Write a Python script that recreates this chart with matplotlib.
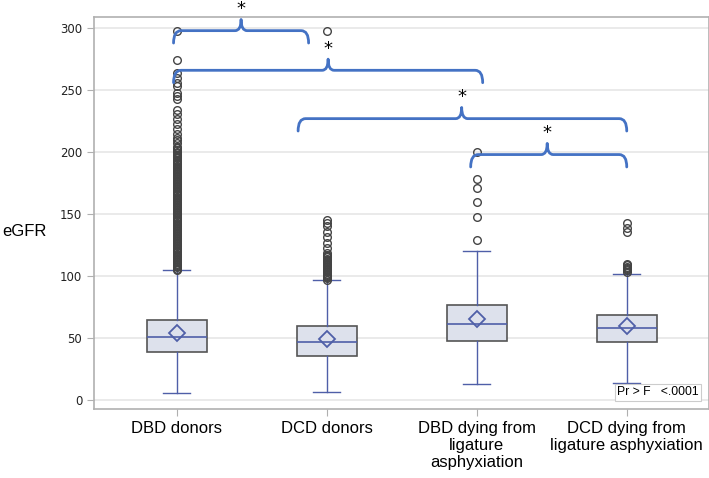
import matplotlib
matplotlib.use("Agg")
import matplotlib.pyplot as plt
from matplotlib.path import Path
from matplotlib.patches import PathPatch

# groups and box statistics
groups = ["DBD donors", "DCD donors",
          "DBD dying from\nligature\nasphyxiation",
          "DCD dying from\nligature asphyxiation"]
q1 = [38.7, 35.3, 47.6, 46.8]
med = [51.0, 46.8, 61.2, 58.3]
q3 = [64.4, 59.6, 76.7, 68.7]
whislo = [5.4, 6.7, 12.6, 13.6]
whishi = [104.5, 96.5, 120.5, 102.0]
means = [54.0, 49.0, 65.0, 59.9]

fliers_dbd = [105, 106, 107, 108, 109, 110, 111, 112, 113, 114, 115, 116, 117, 118,
              119, 120, 121, 122, 123, 124, 125, 126, 127, 128, 129, 130, 131, 132,
              133, 134, 135, 136, 137, 138, 139, 140, 141, 142, 143, 144, 145, 146,
              147, 148, 149, 150, 151, 152, 153, 154, 155, 156, 157, 158, 159, 160,
              161, 162, 163, 164, 165, 166, 167, 168, 169, 170, 171, 172, 173, 174,
              175, 176, 177, 178, 179, 180, 181, 182, 183, 184, 185, 186, 187, 188,
              189, 190, 191, 192, 193, 194, 195, 196, 197, 198, 199, 200,
              201.6, 203, 204, 207, 209.7, 211, 215, 219, 223, 227, 231, 233.8,
              243, 245, 247.6, 253, 255.6, 259.6, 263.6, 274.4, 298]
fliers_dcd = [97, 98, 99, 100, 101, 102, 103, 104, 105, 106, 107, 108, 109, 110,
              111, 112, 113, 114, 115, 116, 117, 118.5, 122.5, 126.5, 131.7, 135.7,
              140, 143, 145, 298]
fliers_dbd_lig = [129, 148, 160, 171, 178, 200]
fliers_dcd_lig = [103.5, 104.5, 105.5, 106.5, 107.5, 108.5, 110, 135.3, 139, 142.5]
fliers = [fliers_dbd, fliers_dcd, fliers_dbd_lig, fliers_dcd_lig]

# significance braces: (left end, right end, tip position, height)
braces = [(-0.02, 0.88, 0.43, 298),
          (-0.02, 2.04, 1.01, 266),
          (0.81, 3.0, 1.90, 227),
          (1.96, 3.0, 2.47, 198)]

stats = []
for i in range(len(groups)):
    stats.append(dict(q1=q1[i], med=med[i], q3=q3[i], whislo=whislo[i],
                      whishi=whishi[i], mean=means[i], fliers=fliers[i]))

fig = plt.figure(figsize=(7.09, 4.78), dpi=100)
ax = fig.add_axes([0.1326, 0.1444, 0.8678, 0.82])

blue = "#4f5fa8"
ax.bxp(stats, positions=range(len(groups)), widths=0.40, capwidths=0.18,
       patch_artist=True, showmeans=True,
       boxprops=dict(facecolor="#dde1ec", edgecolor="#555555", linewidth=1.2),
       medianprops=dict(color=blue, linewidth=1.2),
       whiskerprops=dict(color=blue, linewidth=1),
       capprops=dict(color=blue, linewidth=1),
       meanprops=dict(marker="D", markerfacecolor="none", markeredgecolor=blue,
                      markersize=8, markeredgewidth=1.3),
       flierprops=dict(marker="o", markerfacecolor="none", markeredgecolor="#444444",
                       markersize=5.5, markeredgewidth=1.0),
       zorder=3)

ax.set_xlim(-0.55, 3.55)
ax.set_ylim(-7.3, 309)
ax.set_yticks([0, 50, 100, 150, 200, 250, 300])
ax.yaxis.grid(True, color="#e6e6e6", linewidth=1.2, zorder=0)
ax.set_axisbelow(True)
for s in ax.spines.values():
    s.set_color("#b0b0b0")
    s.set_linewidth(1.2)
ax.tick_params(axis="y", colors="#b0b0b0", labelcolor="#222222", labelsize=8.5,
               length=5)
ax.tick_params(axis="x", colors="#b0b0b0", labelcolor="black", length=5, pad=4)
ax.set_xticks(range(len(groups)))
ax.set_xticklabels(groups, fontsize=12, family="Liberation Sans", linespacing=1.15,
                   va="top")
for t in ax.get_yticklabels():
    t.set_family("DejaVu Sans")
    t.set_fontweight("medium")

fig.text(0.003, 0.515, "eGFR", fontsize=12, family="Liberation Sans", va="center")

ax.text(0.983, 0.027, "Pr > F   <.0001", transform=ax.transAxes, ha="right",
        va="bottom", fontsize=8.8, family="Liberation Sans",
        bbox=dict(boxstyle="square,pad=0.2", facecolor="white",
                  edgecolor="#cccccc", linewidth=0.8), zorder=5)

# curly braces with stars
dx, tip_dx, rise, drop = 0.05, 0.04, 9.0, 10.0
for x0, x1, xm, y in braces:
    verts = [(x0, y - drop), (x0, y), (x0 + dx, y),
             (xm - tip_dx, y), (xm, y), (xm, y + rise),
             (xm, y), (xm + tip_dx, y),
             (x1 - dx, y), (x1, y), (x1, y - drop)]
    codes = [Path.MOVETO, Path.CURVE3, Path.CURVE3,
             Path.LINETO, Path.CURVE3, Path.CURVE3,
             Path.CURVE3, Path.CURVE3,
             Path.LINETO, Path.CURVE3, Path.CURVE3]
    ax.add_patch(PathPatch(Path(verts, codes), facecolor="none", edgecolor="#4472c4",
                           linewidth=2.0, clip_on=False, zorder=4,
                           capstyle="round", joinstyle="round"))
    ax.text(xm, y + rise + 1, "*", ha="center", va="bottom", fontsize=13,
            family="DejaVu Sans", clip_on=False)

fig.savefig("out.png", dpi=100)
